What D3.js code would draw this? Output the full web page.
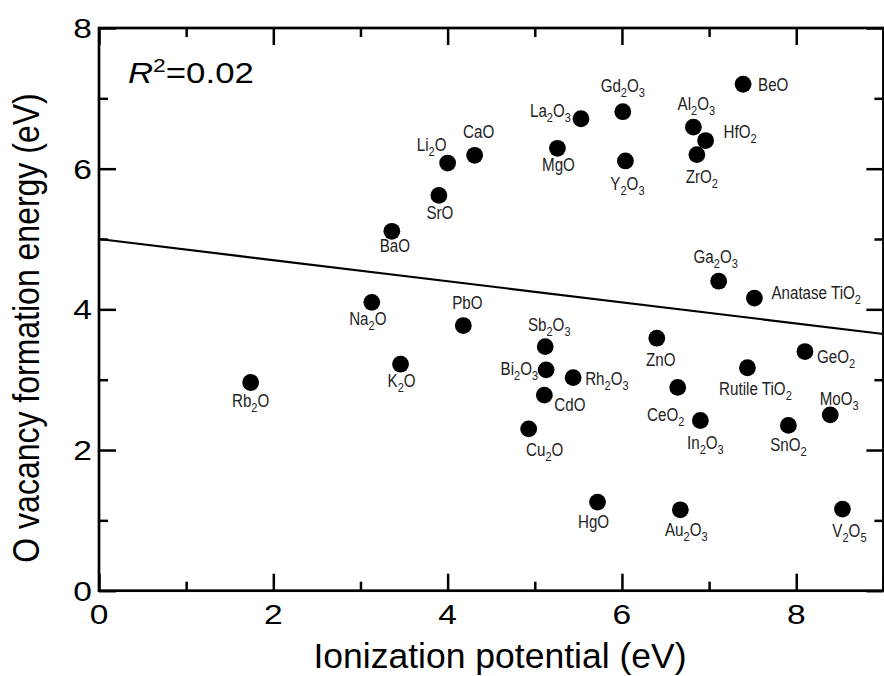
<!DOCTYPE html>
<html lang="en">
<head>
<meta charset="utf-8">
<title>O vacancy formation energy vs ionization potential</title>
<script src="https://d3js.org/d3.v7.min.js"></script>
<style>
  body { margin: 0; background: #fff; }
  svg { display: block; }
  .axis-title, .tick-label, .r2 { font-family: "Liberation Sans", Arial, sans-serif; fill: #000; }
  .point-label { font-family: "Liberation Sans", Arial, sans-serif; font-size: 18.5px; fill: #222; }
</style>
</head>
<body>
<div id="chart"></div>
<script>
// Data
const oxides = ["Rb2O", "Na2O", "K2O", "BaO", "SrO", "Li2O", "CaO", "PbO", "MgO", "La2O3",
  "Gd2O3", "Y2O3", "Sb2O3", "Bi2O3", "CdO", "Rh2O3", "Cu2O", "HgO", "ZnO", "CeO2",
  "In2O3", "Au2O3", "Al2O3", "HfO2", "ZrO2", "BeO", "Ga2O3", "Anatase TiO2", "Rutile TiO2",
  "SnO2", "GeO2", "MoO3", "V2O5"];
const ionization = [1.74, 3.13, 3.46, 3.36, 3.90, 4.00, 4.31, 4.18, 5.26, 5.53,
  6.01, 6.04, 5.12, 5.13, 5.11, 5.44, 4.93, 5.72, 6.40, 6.64,
  6.90, 6.67, 6.82, 6.96, 6.86, 7.39, 7.11, 7.52, 7.44,
  7.91, 8.10, 8.39, 8.53];
const vacancyEnergy = [2.96, 4.10, 3.22, 5.11, 5.62, 6.08, 6.19, 3.77, 6.29, 6.71,
  6.81, 6.11, 3.47, 3.14, 2.78, 3.03, 2.30, 1.26, 3.59, 2.89,
  2.42, 1.15, 6.59, 6.40, 6.20, 7.20, 4.40, 4.16, 3.17,
  2.35, 3.40, 2.50, 1.16];
const fitX = [0, 9];
const fitY = [5.0, 3.65];
const majorTicks = [0, 2, 4, 6, 8];
const minorXTicks = [1, 3, 5, 7, 9];
const minorYTicks = [1, 3, 5, 7];
const rSquared = "0.02";

// Label placement relative to each dot (pixels)
const labelPos = {
  "Rb2O": [0, 24, "middle"], "Na2O": [-4, 23, "middle"], "K2O": [1, 23, "middle"],
  "BaO": [3, 21, "middle"], "SrO": [1, 24, "middle"], "Li2O": [-16, -12, "middle"],
  "CaO": [4, -17, "middle"], "PbO": [4, -17, "middle"], "MgO": [1, 23, "middle"],
  "La2O3": [-10, -2, "end"], "Gd2O3": [0, -20, "middle"], "Y2O3": [2, 29, "middle"],
  "Sb2O3": [4, -16, "middle"], "Bi2O3": [-8, 5, "end"], "CdO": [10, 16, "start"],
  "Rh2O3": [12, 7, "start"], "Cu2O": [16, 27, "middle"], "HgO": [-4, 26, "middle"],
  "ZnO": [4, 28, "middle"], "CeO2": [-12, 34, "middle"], "In2O3": [5, 29, "middle"],
  "Au2O3": [6, 26, "middle"], "Al2O3": [3, -17, "middle"], "HfO2": [18, -3, "start"],
  "ZrO2": [5, 28, "middle"], "BeO": [15, 7, "start"], "Ga2O3": [-3, -18, "middle"],
  "Anatase TiO2": [17, 1, "start"], "Rutile TiO2": [8, 27, "middle"],
  "SnO2": [0, 26, "middle"], "GeO2": [12, 11, "start"], "MoO3": [9, -10, "middle"],
  "V2O5": [7, 28, "middle"]
};

const points = oxides.map((name, i) => ({ name, x: ionization[i], y: vacancyEnergy[i] }));

// Dimensions
const width = 884;
const height = 676;
const margin = { top: 28, right: 0.6, bottom: 85.3, left: 99 };
const innerWidth = width - margin.left - margin.right;
const innerHeight = height - margin.top - margin.bottom;

const svg = d3.select("#chart").append("svg")
  .attr("width", width)
  .attr("height", height);

const bounds = svg.append("g")
  .attr("transform", `translate(${margin.left},${margin.top})`);

// Scales
const x = d3.scaleLinear().domain([0, 9]).range([0, innerWidth]);
const y = d3.scaleLinear().domain([0, 8]).range([innerHeight, 0]);

// Fit line
const line = d3.line().x(d => x(d[0])).y(d => y(d[1]));
bounds.append("path")
  .datum(d3.zip(fitX, fitY))
  .attr("d", line)
  .attr("fill", "none")
  .attr("stroke", "#000")
  .attr("stroke-width", 2.2);

// Ticks, inward on all four sides
function styleAxis(g) {
  g.select(".domain").remove();
  g.selectAll(".tick line").attr("stroke", "#000").attr("stroke-width", 2.5);
  g.selectAll(".tick text").remove();
}
const axes = [
  [d3.axisBottom(x), `translate(0,${innerHeight})`, minorXTicks],
  [d3.axisTop(x), "translate(0,0)", minorXTicks],
  [d3.axisLeft(y), "translate(0,0)", minorYTicks],
  [d3.axisRight(y), `translate(${innerWidth},0)`, minorYTicks]
];
axes.forEach(([axis, tr, minor]) => {
  bounds.append("g").attr("transform", tr)
    .call(axis.tickValues(majorTicks).tickSize(-17)).call(styleAxis);
  bounds.append("g").attr("transform", tr)
    .call(axis.tickValues(minor).tickSize(-9)).call(styleAxis);
});

// Frame
bounds.append("rect")
  .attr("width", innerWidth)
  .attr("height", innerHeight)
  .attr("fill", "none")
  .attr("stroke", "#000")
  .attr("stroke-width", 2.7);

// Tick labels (the original face is a little wider than Liberation Sans)
bounds.selectAll("text.xtick")
  .data(majorTicks)
  .join("text")
  .attr("class", "tick-label xtick")
  .attr("transform", d => `translate(${x(d)},${innerHeight + 33.3}) scale(1.22,1)`)
  .attr("text-anchor", "middle")
  .style("font-size", "27.5px")
  .text(d => d);

bounds.selectAll("text.ytick")
  .data(majorTicks)
  .join("text")
  .attr("class", "tick-label ytick")
  .attr("transform", d => `translate(-7,${y(d)}) scale(1.22,1)`)
  .attr("dy", "0.36em")
  .attr("text-anchor", "end")
  .style("font-size", "27.5px")
  .text(d => d);

// Axis titles
svg.append("text")
  .attr("class", "axis-title")
  .attr("x", 500)
  .attr("y", 668)
  .attr("text-anchor", "middle")
  .style("font-size", "35.5px")
  .text("Ionization potential (eV)");

svg.append("text")
  .attr("class", "axis-title")
  .attr("transform", "translate(38.5,328) rotate(-90) scale(1,1.14)")
  .attr("text-anchor", "middle")
  .style("font-size", "32px")
  .text("O vacancy formation energy (eV)");

// R^2 annotation
const r2 = bounds.append("text")
  .attr("class", "r2")
  .attr("transform", "translate(29,55) scale(1.2,1)")
  .style("font-size", "29px");
r2.append("tspan").style("font-style", "italic").text("R");
r2.append("tspan").attr("dy", -11).style("font-size", "19px").text("2");
r2.append("tspan").attr("dy", 11).text("=" + rSquared);

// Dots
bounds.selectAll("circle.dot")
  .data(points)
  .join("circle")
  .attr("class", "dot")
  .attr("cx", d => x(d.x))
  .attr("cy", d => y(d.y))
  .attr("r", 8.4)
  .attr("fill", "#000");

// Point labels with subscripted digits, condensed horizontally like a narrow face
bounds.selectAll("text.point-label")
  .data(points)
  .join("text")
  .attr("class", "point-label")
  .attr("transform", d =>
    `translate(${x(d.x) + labelPos[d.name][0]},${y(d.y) + labelPos[d.name][1]}) scale(0.82,1)`)
  .attr("text-anchor", d => labelPos[d.name][2])
  .each(function(d) {
    const t = d3.select(this);
    const parts = d.name.match(/\d+|\D+/g);
    let shifted = false;
    parts.forEach(p => {
      const isSub = /^\d+$/.test(p);
      const span = t.append("tspan").text(p);
      if (isSub && !shifted) { span.attr("dy", 5).style("font-size", "13.5px"); shifted = true; }
      else if (isSub) { span.style("font-size", "13.5px"); }
      else if (shifted) { span.attr("dy", -5); shifted = false; }
    });
  });
</script>
</body>
</html>
